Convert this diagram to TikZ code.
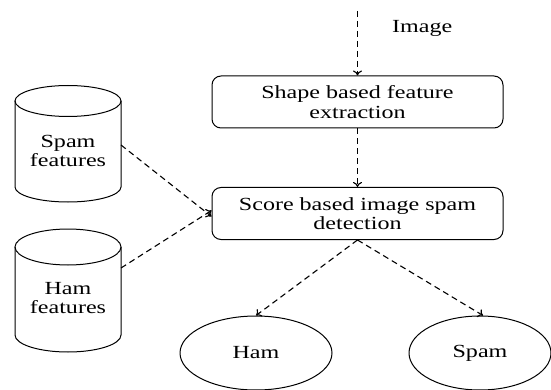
\documentclass[tikz,border=0pt]{standalone}
\usepackage{fontspec}
\setmainfont[FakeStretch=1.3]{Liberation Serif}
\usetikzlibrary{arrows.meta,shapes.geometric}
\begin{document}
\begin{tikzpicture}[x=1pt,y=-1pt,
  txt/.style={font=\fontsize{18.5}{19.5}\selectfont, align=center, inner sep=0pt},
  procbox/.style={draw, line width=1pt, rounded corners=9pt, minimum width=291pt, minimum height=52pt, txt},
  leaf/.style={draw, line width=1pt, ellipse, inner sep=0pt, txt},
  flow/.style={line width=1.1pt, dash pattern=on 6pt off 4pt, -{To[length=5pt,width=9pt]}},
  dbline/.style={line width=1pt}
]
\useasboundingbox (0,0) rectangle (551,390);

% process boxes
\node[procbox] (shape) at (357.5,102) {Shape based feature\\extraction};
\node[procbox] (score) at (357.5,213.5) {Score based image spam\\detection};

% input
\coordinate (in) at (357.5,11);
\node[txt, anchor=west] (imglbl) at (392,28) {Image};

% cylinders (drawn)
\draw[dbline] (15,101) -- (15,187) arc[start angle=180,end angle=360,x radius=53pt,y radius=15pt] -- (121,101);
\draw[dbline] (68,101) ellipse[x radius=53pt,y radius=15.5pt];
\node[txt] (spamdb) at (68,151) {Spam\\features};

\draw[dbline] (15,247) -- (15,335) arc[start angle=180,end angle=360,x radius=53pt,y radius=17pt] -- (121,247);
\draw[dbline] (68,247) ellipse[x radius=53pt,y radius=18pt];
\node[txt] (hamdb) at (68,298) {Ham\\features};

\coordinate (spamout) at (121,145);
\coordinate (hamout) at (121,268);

% outcomes
\node[leaf, minimum width=152pt, minimum height=74pt] (ham) at (256,353) {Ham};
\node[leaf, minimum width=142pt, minimum height=74pt] (spam) at (480,353) {Spam};

% connectors
\draw[flow] (in) -- (shape.north);
\draw[flow] (shape.south) -- (score.north);
\draw[flow] (spamout) -- ([yshift=-3pt]score.west);
\draw[flow] (hamout) -- ([yshift=3pt]score.west);
\draw[flow] (score.south) -- (ham.north);
\draw[flow] (score.south) -- ([xshift=3pt]spam.north);
\end{tikzpicture}
\end{document}
